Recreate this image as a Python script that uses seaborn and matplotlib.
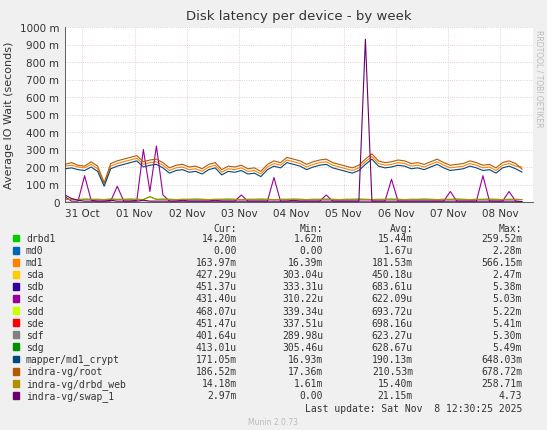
import numpy as np
import pandas as pd
import matplotlib
matplotlib.use("Agg")
import matplotlib.pyplot as plt
import seaborn as sns

# Data (values in ms), 3-hour samples
times = pd.date_range("2025-10-30 16:00", periods=71, freq="3h")

md1 = [205, 210, 200, 195, 215, 190, 100, 205, 220, 230,
       240, 250, 215, 225, 230, 210, 180, 195, 200, 185,
       190, 175, 200, 210, 170, 190, 185, 195, 175, 180,
       160, 200, 220, 210, 240, 230, 220, 200, 215, 225,
       230, 210, 200, 190, 180, 195, 230, 260, 220, 210,
       215, 225, 220, 205, 210, 200, 215, 230, 210, 195,
       200, 205, 220, 210, 195, 200, 180, 210, 220, 205, 200]
mapper = [190, 195, 185, 180, 200, 175, 90, 190, 205, 215,
          225, 235, 200, 210, 215, 195, 165, 180, 185, 170,
          175, 160, 185, 195, 155, 175, 170, 180, 160, 165,
          145, 185, 205, 195, 225, 215, 205, 185, 200, 210,
          215, 195, 185, 175, 165, 180, 215, 245, 205, 195,
          200, 210, 205, 190, 195, 185, 200, 215, 195, 180,
          185, 190, 205, 195, 180, 185, 165, 195, 205, 190, 171]
root = [215, 225, 210, 205, 230, 205, 110, 220, 235, 245,
        255, 265, 230, 240, 245, 225, 195, 210, 215, 200,
        205, 190, 215, 225, 185, 205, 200, 210, 190, 195,
        175, 215, 235, 225, 255, 245, 235, 215, 230, 240,
        245, 225, 215, 205, 195, 210, 245, 275, 235, 225,
        230, 240, 235, 220, 225, 215, 230, 245, 225, 210,
        215, 220, 235, 225, 210, 215, 195, 225, 235, 220, 187]
sdc = [30, 5, 5, 150, 10, 5, 5, 5, 90, 5,
       5, 10, 300, 60, 320, 40, 5, 5, 10, 5,
       5, 5, 5, 10, 5, 5, 5, 40, 5, 5,
       5, 5, 140, 5, 5, 10, 5, 5, 5, 5,
       40, 5, 5, 5, 5, 5, 5, 5, 5, 5,
       130, 5, 5, 5, 5, 5, 5, 5, 5, 60,
       5, 5, 5, 5, 150, 5, 5, 5, 60, 5, 0.4]
swap_1 = [40, 20, 10, 5, 5, 5, 5, 10, 5, 5,
          5, 5, 10, 5, 5, 5, 5, 5, 5, 5,
          5, 5, 5, 5, 5, 5, 5, 5, 5, 5,
          5, 5, 5, 5, 5, 5, 5, 5, 5, 5,
          5, 5, 5, 5, 5, 5, 930, 5, 5, 5,
          5, 5, 5, 5, 5, 5, 5, 5, 5, 5,
          5, 5, 5, 5, 5, 5, 5, 5, 5, 5, 3]
drbd = [15, 15, 14, 16, 15, 15, 14, 16, 15, 15,
        16, 15, 14, 30, 15, 16, 15, 14, 15, 15,
        16, 15, 14, 15, 15, 16, 15, 14, 15, 15,
        16, 15, 14, 15, 15, 16, 15, 14, 15, 15,
        16, 15, 14, 15, 15, 16, 15, 14, 15, 15,
        16, 15, 14, 15, 15, 16, 15, 14, 15, 15,
        16, 15, 14, 15, 15, 16, 15, 14, 15, 15, 14]
disk_small = [0.5] * 71

legend_names = ["drbd1", "md0", "md1", "sda", "sdb", "sdc", "sdd", "sde", "sdf",
                "sdg", "mapper/md1_crypt", "indra-vg/root", "indra-vg/drbd_web", "indra-vg/swap_1"]
colors = ["#00CC00", "#0066B3", "#FF8000", "#FFCC00", "#330099", "#990099", "#CCFF00",
          "#FF0000", "#808080", "#008F00", "#00487D", "#B35A00", "#B38F00", "#6B006B"]
cur = ["14.20m", "0.00", "163.97m", "427.29u", "451.37u", "431.40u", "468.07u",
       "451.47u", "401.64u", "413.01u", "171.05m", "186.52m", "14.18m", "2.97m"]
mins = ["1.62m", "0.00", "16.39m", "303.04u", "333.31u", "310.22u", "339.34u",
        "337.51u", "289.98u", "305.46u", "16.93m", "17.36m", "1.61m", "0.00"]
avgs = ["15.44m", "1.67u", "181.53m", "450.18u", "683.61u", "622.09u", "693.72u",
        "698.16u", "623.27u", "628.67u", "190.13m", "210.53m", "15.40m", "21.15m"]
maxs = ["259.52m", "2.28m", "566.15m", "2.47m", "5.38m", "5.03m", "5.22m",
        "5.41m", "5.30m", "5.49m", "648.03m", "678.72m", "258.71m", "4.73"]

series = {"drbd1": drbd, "md0": disk_small, "md1": md1, "sda": disk_small,
          "sdb": disk_small, "sdc": sdc, "sdd": disk_small, "sde": disk_small,
          "sdf": disk_small, "sdg": disk_small, "mapper/md1_crypt": mapper,
          "indra-vg/root": root, "indra-vg/drbd_web": drbd, "indra-vg/swap_1": swap_1}

sns.set_style("white")
plt.rcParams["font.family"] = ["DejaVu Sans"]

fig = plt.figure(figsize=(5.47, 4.31), dpi=100, facecolor="#F0F0F0")
ax = fig.add_axes([65 / 547, 1 - 203 / 431, 468 / 547, 175 / 431])
ax.set_facecolor("white")

for name, col in zip(legend_names, colors):
    sns.lineplot(x=times, y=series[name], ax=ax, color=col, lw=0.8)

ax.set_xlim(pd.Timestamp("2025-10-30 16:00"), pd.Timestamp("2025-11-08 15:00"))
ax.set_ylim(0, 1000)
ax.set_yticks(range(0, 1001, 100))
ax.set_yticklabels(["0"] + [f"{v} m" for v in range(100, 1001, 100)], fontsize=7.5, color="#333333")
ticks = pd.date_range("2025-10-31", "2025-11-08", freq="D")
ax.set_xticks(ticks)
ax.set_xticklabels([t.strftime("%d %b") for t in ticks], fontsize=7.5, color="#333333")
ax.grid(True, color="#E0C0C0", ls=":", lw=0.6)
for k in ("top", "right"):
    ax.spines[k].set_visible(False)
for k in ("left", "bottom"):
    ax.spines[k].set_color("#444444")
    ax.spines[k].set_linewidth(0.6)
ax.tick_params(length=2, pad=2)
ax.set_xlabel("")
ax.set_ylabel("Average IO Wait (seconds)", fontsize=8, color="#333333")
ax.set_title("Disk latency per device - by week", fontsize=9.5, color="#333333")

fig.text(0.985, 0.93, "RRDTOOL / TOBI OETIKER", rotation=270, fontsize=5.5,
         color="#BBBBBB", va="top", ha="center")

mono = {"family": "DejaVu Sans Mono", "size": 7}
def fy(py):
    return 1 - py / 431

for x, h in [(237, "Cur:"), (323, "Min:"), (413, "Avg:"), (522, "Max:")]:
    fig.text(x / 547, fy(229), h, ha="right", va="center", color="#333333", **mono)
for i, name in enumerate(legend_names):
    y = fy(239 + i * 12.1)
    fig.patches.append(plt.Rectangle((13 / 547, y - 0.008), 6 / 547, 0.016,
                                     transform=fig.transFigure, color=colors[i]))
    fig.text(26 / 547, y, name, ha="left", va="center", color="#333333", **mono)
    for x, vals in [(237, cur), (323, mins), (413, avgs), (522, maxs)]:
        fig.text(x / 547, y, vals[i], ha="right", va="center", color="#333333", **mono)
fig.text(522 / 547, fy(409), "Last update: Sat Nov  8 12:30:25 2025", ha="right",
         va="center", color="#333333", **mono)
fig.text(273 / 547, fy(423), "Munin 2.0.73", ha="center", va="center",
         color="#BBBBBB", fontsize=5.5)

fig.savefig("out.png", dpi=100, facecolor=fig.get_facecolor())
